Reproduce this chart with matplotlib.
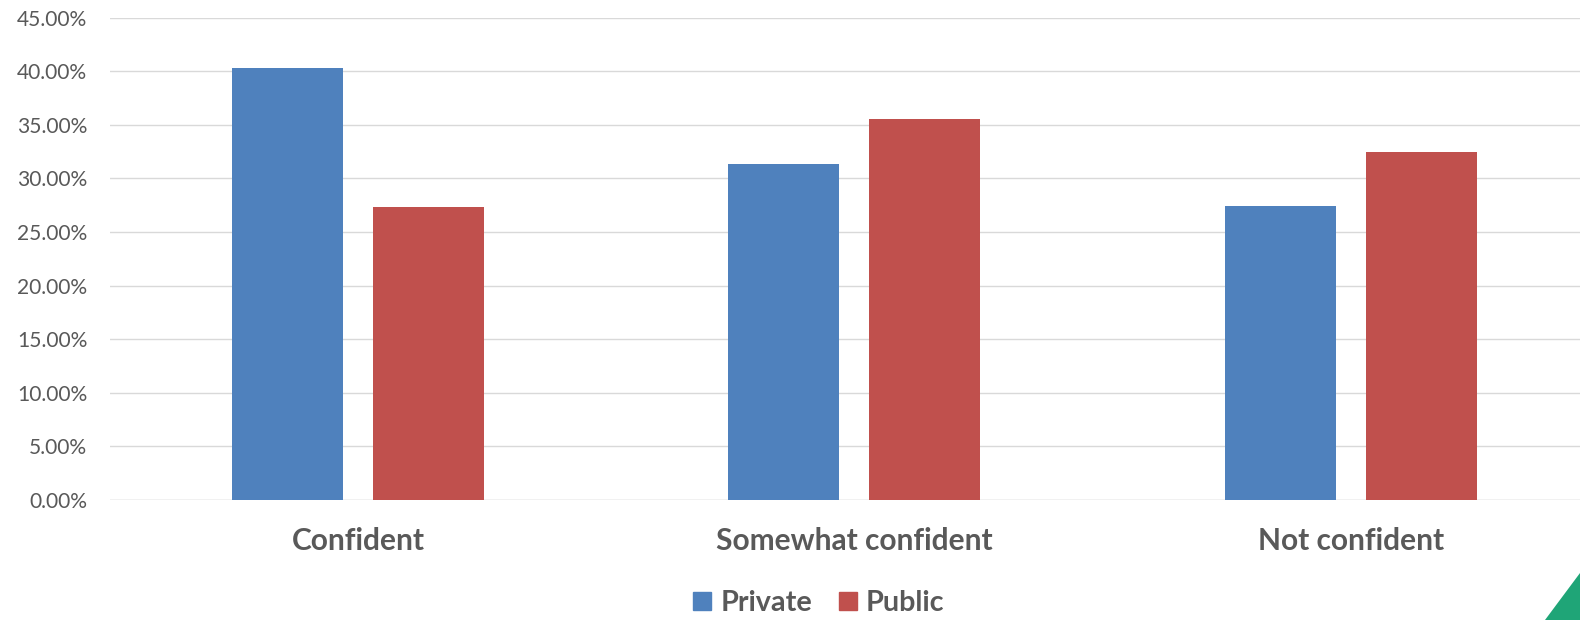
import matplotlib
matplotlib.use("Agg")
import matplotlib.pyplot as plt
from matplotlib.patches import Patch, Polygon
from matplotlib.ticker import FuncFormatter, MultipleLocator
import numpy as np

categories = ["Confident", "Somewhat confident", "Not confident"]
series_names = ["Private", "Public"]
private_vals = [40.34, 31.32, 27.43]
public_vals = [27.31, 35.55, 32.44]
y_ticks = [0, 5, 10, 15, 20, 25, 30, 35, 40, 45]

BLUE = "#4F81BD"
RED = "#C0504D"
TXT = "#595959"
GRID = "#D9D9D9"
FONT = ["Lato", "DejaVu Sans"]

W, H, DPI = 1580, 620, 100
fig = plt.figure(figsize=(W / DPI, H / DPI), dpi=DPI)
renderer = fig.canvas.get_renderer()


def fit_size(text, target_px, weight="normal"):
    t = fig.text(0, 0, text, fontsize=20, family=FONT, weight=weight)
    w = t.get_window_extent(renderer).width
    t.remove()
    return 20 * target_px / w


tick_fs = fit_size("45.00%", 70.6)
cat_fs = fit_size("Somewhat confident", 276, "bold")
leg_fs = fit_size("Private", 91.7, "bold")

left_px, right_px = 110, 110 + 3 * 496.3
top_px, bottom_px = 17.7, 500
ax = fig.add_axes([left_px / W, (H - bottom_px) / H,
                   (right_px - left_px) / W, (bottom_px - top_px) / H])

x = np.arange(len(categories))
bw = 111 / 496.3
off = (111 + 30) / 2 / 496.3
ax.bar(x - off, private_vals, bw, color=BLUE, zorder=3, label=series_names[0])
ax.bar(x + off, public_vals, bw, color=RED, zorder=3, label=series_names[1])

ax.set_xlim(-0.5, len(categories) - 0.5)
ax.set_ylim(0, 45)
ax.set_yticks(y_ticks)
ax.yaxis.set_major_formatter(FuncFormatter(lambda v, p: f"{v:.2f}%"))
ax.grid(axis="y", color=GRID, linewidth=1.0, zorder=0)
for s in ax.spines.values():
    s.set_visible(False)
ax.axhline(0, color=GRID, linewidth=1.0, zorder=2)

ax.set_xticks(x)
ax.set_xticklabels(categories)
ax.tick_params(axis="x", length=0, pad=41 / 1.389, colors=TXT)
ax.tick_params(axis="y", length=0, pad=22.7 / 1.389, colors=TXT)
for lab in ax.get_xticklabels():
    lab.set_fontsize(cat_fs)
    lab.set_fontweight("bold")
    lab.set_family(FONT)
    lab.set_va("center")
for lab in ax.get_yticklabels():
    lab.set_fontsize(tick_fs)
    lab.set_family(FONT)

leg_px = leg_fs * 1.389
handles = [Patch(color=BLUE, label=series_names[0]),
           Patch(color=RED, label=series_names[1])]
leg = fig.legend(handles=handles, loc="center",
                 bbox_to_anchor=(819 / W, (H - 603) / H), ncol=2, frameon=False,
                 prop={"family": FONT, "weight": "bold", "size": leg_fs},
                 handlelength=18 / leg_px, handleheight=18 / leg_px,
                 handletextpad=9 / leg_px, columnspacing=27 / leg_px,
                 borderpad=0, borderaxespad=0)
for t in leg.get_texts():
    t.set_color(TXT)

fig.patches.append(Polygon([(1545 / W, 0), (1, 0), (1, (H - 573) / H)],
                           closed=True, transform=fig.transFigure,
                           facecolor="#1FA577", edgecolor="none"))

fig.savefig("out.png", dpi=DPI)
